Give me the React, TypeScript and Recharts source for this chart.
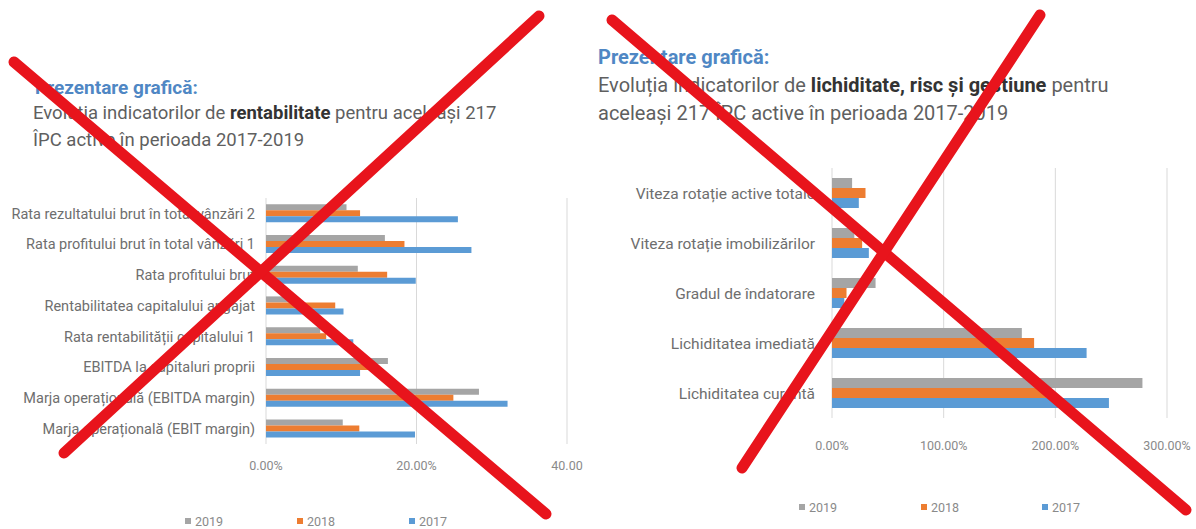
import React from 'react';
import { BarChart, Bar, XAxis, YAxis, CartesianGrid, Legend } from 'recharts';

const seriesNames = ['2019', '2018', '2017'];
const seriesKeys = ['y2019', 'y2018', 'y2017'];
const seriesColors = ['#A5A5A5', '#ED7D31', '#5B9BD5'];

const leftCategories = [
  'Rata rezultatului brut în total vânzări 2',
  'Rata profitului brut în total vânzări 1',
  'Rata profitului brut',
  'Rentabilitatea capitalului angajat',
  'Rata rentabilității capitalului 1',
  'EBITDA la capitaluri proprii',
  'Marja operațională (EBITDA margin)',
  'Marja operațională (EBIT margin)',
];
const left2019 = [10.7, 15.8, 12.2, 3.5, 7.2, 16.2, 28.3, 10.2];
const left2018 = [12.5, 18.4, 16.1, 9.2, 8.0, 14.5, 24.9, 12.4];
const left2017 = [25.5, 27.3, 19.9, 10.3, 11.6, 12.5, 32.1, 19.8];
const leftTicks = [0, 20, 40];
const leftTickLabels = ['0.00%', '20.00%', '40.00'];

const rightCategories = [
  'Viteza rotație active totale',
  'Viteza rotație imobilizărilor',
  'Gradul de îndatorare',
  'Lichiditatea imediată',
  'Lichiditatea curentă',
];
const right2019 = [18, 20, 39, 170, 278];
const right2018 = [30, 27, 13, 181, 192];
const right2017 = [24, 33, 11, 228, 248];
const rightTicks = [0, 100, 200, 300];
const rightTickLabels = ['0.00%', '100.00%', '200.00%', '300.00%'];

const leftData = leftCategories.map((name, i) => ({
  name,
  y2019: left2019[i],
  y2018: left2018[i],
  y2017: left2017[i],
}));
const rightData = rightCategories.map((name, i) => ({
  name,
  y2019: right2019[i],
  y2018: right2018[i],
  y2017: right2017[i],
}));

const FONT = 'Roboto, "Open Sans", sans-serif';
const LABEL_COLOR = '#6e6e6e';
const TICK_COLOR = '#8a8a8a';

function makeLegend(offsets: number[]) {
  return () => (
    <div style={{ position: 'relative', height: 16, width: '100%', fontFamily: FONT }}>
      {seriesNames.map((n, i) => (
        <div
          key={n}
          style={{
            position: 'absolute',
            left: offsets[i],
            top: 0,
            height: 16,
            display: 'flex',
            alignItems: 'center',
            fontSize: 12.5,
            color: TICK_COLOR,
            whiteSpace: 'nowrap',
          }}
        >
          <span style={{ display: 'inline-block', width: 6, height: 6, background: seriesColors[i], marginRight: 4 }} />
          {n}
        </div>
      ))}
    </div>
  );
}

const blue = '#4f87c4';
const textGray = '#5f5f5f';

export default function App() {
  return (
    <div style={{ position: 'absolute', left: 0, top: 0, width: 1196, height: 529, background: '#fff', overflow: 'hidden', fontFamily: FONT }}>
      {/* Left titles */}
      <div style={{ position: 'absolute', left: 35, top: 77, fontSize: 19, fontWeight: 700, color: blue, lineHeight: '22px', whiteSpace: 'nowrap' }}>
        Prezentare grafică:
      </div>
      <div style={{ position: 'absolute', left: 33, top: 99.5, fontSize: 18.5, color: textGray, lineHeight: '27px', whiteSpace: 'nowrap' }}>
        Evoluția indicatorilor de <b style={{ color: '#333' }}>rentabilitate</b> pentru aceleași 217
        <br />
        ÎPC active în perioada 2017-2019
      </div>
      {/* Right titles */}
      <div style={{ position: 'absolute', left: 598, top: 45, fontSize: 20, fontWeight: 700, color: blue, lineHeight: '24px', whiteSpace: 'nowrap' }}>
        Prezentare grafică:
      </div>
      <div style={{ position: 'absolute', left: 598, top: 71, fontSize: 20, color: textGray, lineHeight: '28px', whiteSpace: 'nowrap' }}>
        Evoluția indicatorilor de <b style={{ color: '#333' }}>lichiditate, risc și gestiune</b> pentru
        <br />
        aceleași 217 ÎPC active în perioada 2017-2019
      </div>

      {/* Left chart */}
      <div style={{ position: 'absolute', left: 0, top: 180 }}>
        <BarChart
          width={600}
          height={349}
          data={leftData}
          layout="vertical"
          margin={{ top: 18, right: 33, bottom: 0, left: 0 }}
          barCategoryGap="20%"
          barGap={0}
        >
          <CartesianGrid horizontal={false} stroke="#d9d9d9" />
          <XAxis
            type="number"
            domain={[0, 40]}
            ticks={leftTicks}
            height={69}
            axisLine={false}
            tickLine={false}
            tickMargin={11}
            tick={{ fontSize: 12.5, fill: TICK_COLOR, fontFamily: FONT }}
            tickFormatter={(v: number) => leftTickLabels[leftTicks.indexOf(v)]}
          />
          <YAxis
            type="category"
            dataKey="name"
            width={266}
            axisLine={false}
            tickLine={false}
            tickMargin={5}
            interval={0}
            tick={{ fontSize: 14.5, fill: LABEL_COLOR, fontFamily: FONT }}
          />
          <Legend verticalAlign="bottom" content={makeLegend([185, 297, 409])} wrapperStyle={{ left: 0, width: 600 }} />
          {seriesKeys.map((k, i) => (
            <Bar key={k} dataKey={k} name={seriesNames[i]} fill={seriesColors[i]} isAnimationActive={false} />
          ))}
        </BarChart>
      </div>

      {/* Right chart */}
      <div style={{ position: 'absolute', left: 590, top: 150 }}>
        <BarChart
          width={606}
          height={365}
          data={rightData}
          layout="vertical"
          margin={{ top: 18, right: 29, bottom: 0, left: 0 }}
          barCategoryGap="20%"
          barGap={0}
        >
          <CartesianGrid horizontal={false} stroke="#d9d9d9" />
          <XAxis
            type="number"
            domain={[0, 300]}
            ticks={rightTicks}
            height={81}
            axisLine={false}
            tickLine={false}
            tickMargin={17}
            tick={{ fontSize: 12.5, fill: TICK_COLOR, fontFamily: FONT }}
            tickFormatter={(v: number) => rightTickLabels[rightTicks.indexOf(v)]}
          />
          <YAxis
            type="category"
            dataKey="name"
            width={242}
            axisLine={false}
            tickLine={false}
            tickMargin={11}
            interval={0}
            tick={{ fontSize: 15.5, fill: LABEL_COLOR, fontFamily: FONT }}
          />
          <Legend verticalAlign="bottom" content={makeLegend([209, 331, 452])} wrapperStyle={{ left: 0, width: 606 }} />
          {seriesKeys.map((k, i) => (
            <Bar key={k} dataKey={k} name={seriesNames[i]} fill={seriesColors[i]} isAnimationActive={false} />
          ))}
        </BarChart>
      </div>

      {/* Red X overlay */}
      <svg width={1196} height={529} style={{ position: 'absolute', left: 0, top: 0, pointerEvents: 'none' }}>
        <g stroke="#e8141c" strokeWidth={11} strokeLinecap="round">
          <line x1={14} y1={62} x2={546} y2={514} />
          <line x1={539} y1={16} x2={64} y2={453} />
          <line x1={612} y1={20} x2={1186} y2={510} />
          <line x1={1040} y1={15} x2={742} y2={468} />
        </g>
      </svg>
    </div>
  );
}
